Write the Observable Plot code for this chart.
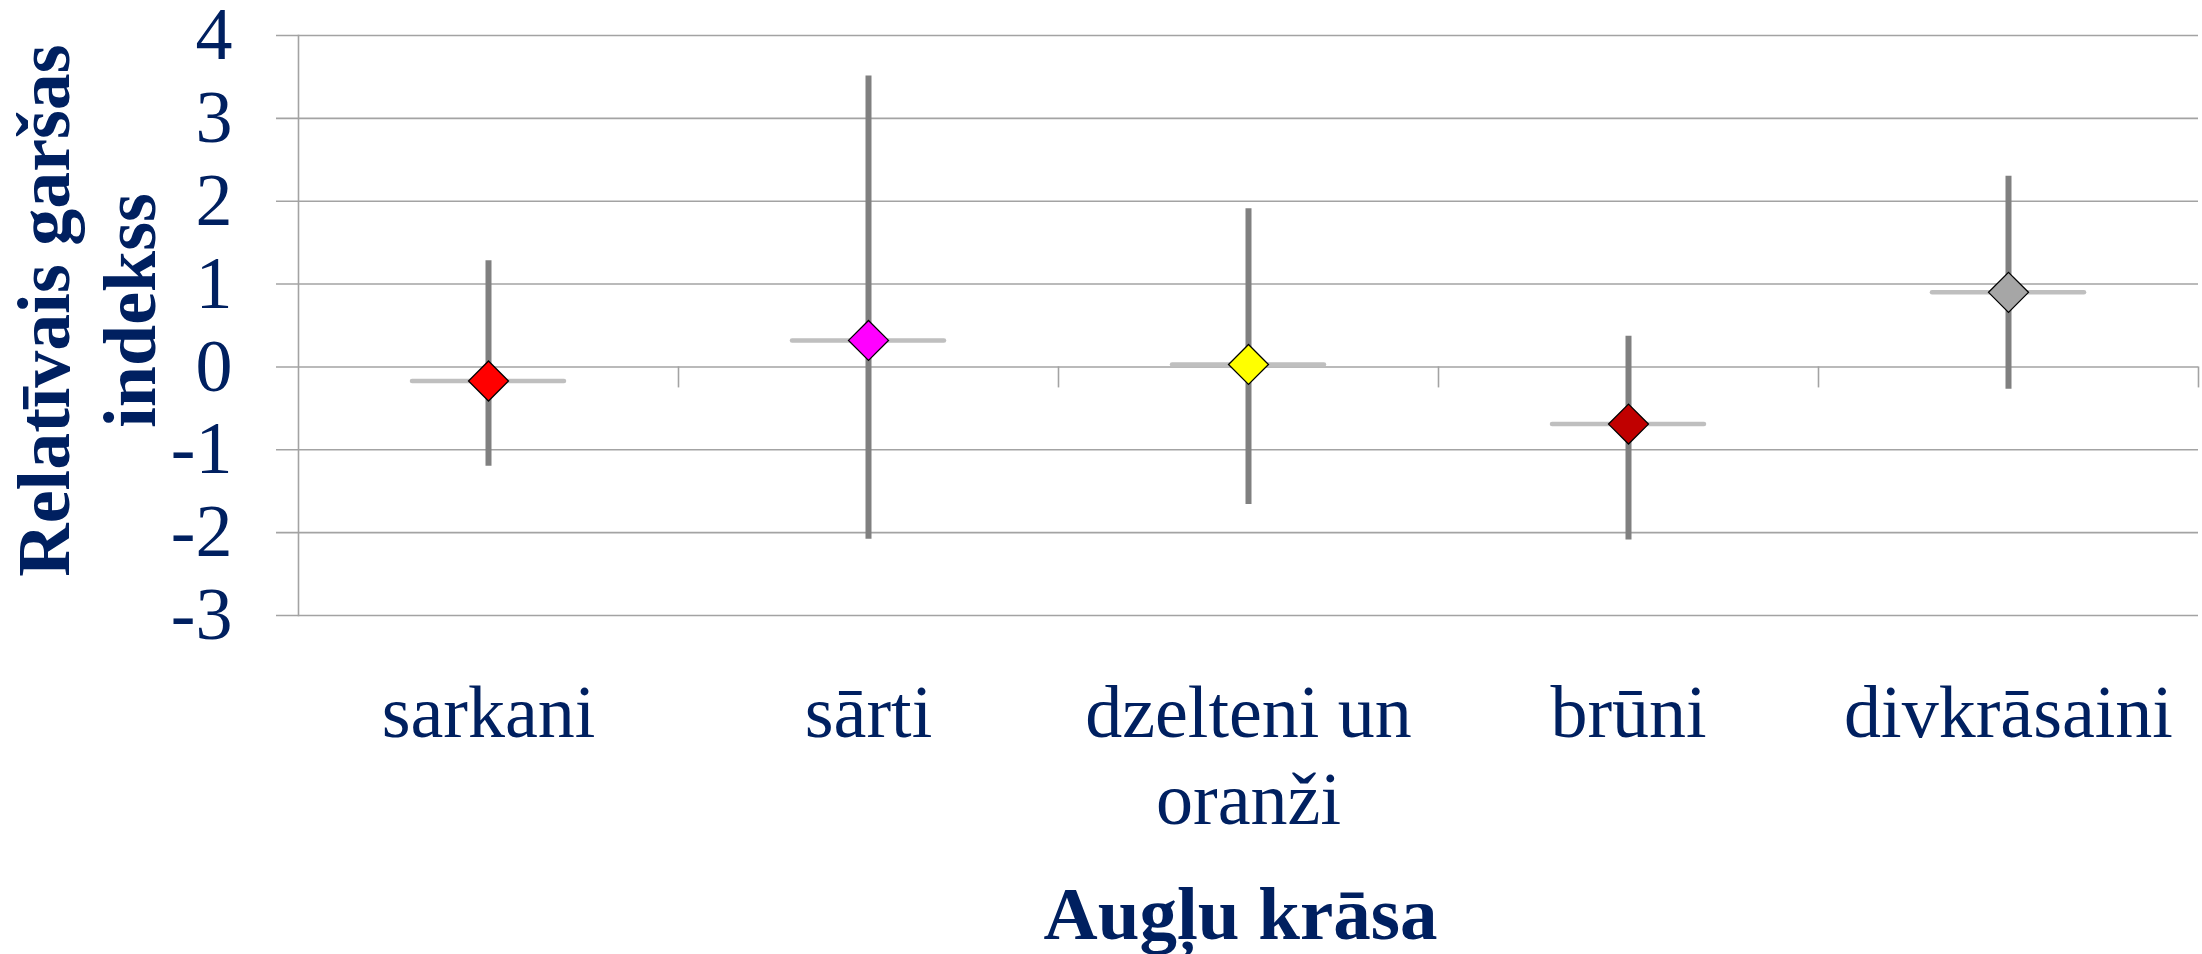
<!DOCTYPE html>
<html>
<head>
<meta charset="utf-8">
<script src="https://cdn.jsdelivr.net/npm/d3@7"></script>
<script src="https://cdn.jsdelivr.net/npm/@observablehq/plot@0.6"></script>
<style>
  html, body { margin: 0; padding: 0; background: #ffffff; }
  #chart svg { display: block; }
</style>
</head>
<body>
<div id="chart"></div>
<script>
// ---- data ----
const categories = ["sarkani", "sārti", "dzelteni un oranži", "brūni", "divkrāsaini"];
const categoryLabels = ["sarkani", "sārti", "dzelteni un\noranži", "brūni", "divkrāsaini"];
const means = [-0.17, 0.32, 0.03, -0.69, 0.90];
const upper = [1.28, 3.51, 1.91, 0.37, 2.30];
const lower = [-1.20, -2.08, -1.66, -2.09, -0.27];
const markerColors = ["#ff0000", "#ff00ff", "#ffff00", "#c00000", "#a6a6a6"];
const yTicks = [-3, -2, -1, 0, 1, 2, 3, 4];
const xTitle = "Augļu krāsa";
const yTitle = "Relatīvais garšas\nindekss";

// ---- table built from the arrays ----
const rows = categories.map((c, i) => ({
  cat: c, label: categoryLabels[i], mean: means[i], hi: upper[i], lo: lower[i], color: markerColors[i]
}));

const W = 2202, H = 954, ML = 298, MR = 4, MT = 35, MB = 339;
const bw = (W - ML - MR) / categories.length;
const navy = "#002060";
const gridColor = "#a3a3a3";
const font = "'Liberation Serif', 'Times New Roman', serif";

const chart = Plot.plot({
  width: W,
  height: H,
  marginLeft: ML,
  marginRight: MR,
  marginTop: MT,
  marginBottom: MB,
  style: { fontFamily: font, fontSize: "74px", background: "#ffffff", overflow: "visible" },
  x: { type: "band", domain: categories, padding: 0, axis: null },
  y: { domain: [-3, 4], axis: null },
  color: { type: "identity" },
  marks: [
    // horizontal gridlines with outward ticks
    Plot.ruleY(yTicks, { stroke: gridColor, strokeWidth: 1.6, insetLeft: -22 }),
    // left axis line
    Plot.frame({ anchor: "left", stroke: gridColor, strokeWidth: 1.6 }),
    // category separator ticks below the zero line
    Plot.ruleX(categories, { x: d => d, y1: 0, y2: 0, insetBottom: -21, dx: bw / 2, stroke: gridColor, strokeWidth: 1.6 }),
    // y tick labels
    Plot.axisY({ ticks: yTicks, tickSize: 0, tickPadding: 66, fontSize: 74, color: navy, label: null, tickFormat: d => String(d) }),
    // horizontal light-gray bars at the mean
    Plot.tickY(rows, { x: "cat", y: "mean", stroke: "#bfbfbf", strokeWidth: 4.5, strokeLinecap: "round", insetLeft: 114, insetRight: 114 }),
    // vertical error bars
    Plot.ruleX(rows, { x: "cat", y1: "lo", y2: "hi", stroke: "#808080", strokeWidth: 6 }),
    // diamond markers
    Plot.dot(rows, { x: "cat", y: "mean", symbol: "diamond2", r: 18, fill: "color", stroke: "#000000", strokeWidth: 1.3 }),
    // category labels
    Plot.text(rows, { x: "cat", text: "label", frameAnchor: "bottom", lineAnchor: "top", dy: 60, fontSize: 74, lineHeight: 1.17, fill: navy }),
    // x axis title
    Plot.text([xTitle], { frameAnchor: "bottom", lineAnchor: "top", dy: 270, dx: -8, fontSize: 75, fontWeight: "bold", fill: navy }),
    // y axis title
    Plot.text([yTitle], { frameAnchor: "left", rotate: -90, textAnchor: "middle", lineAnchor: "middle", dx: -214, dy: -15, fontSize: 74, lineHeight: 1.17, fontWeight: "bold", fill: navy })
  ]
});

document.getElementById("chart").appendChild(chart);
</script>
</body>
</html>
